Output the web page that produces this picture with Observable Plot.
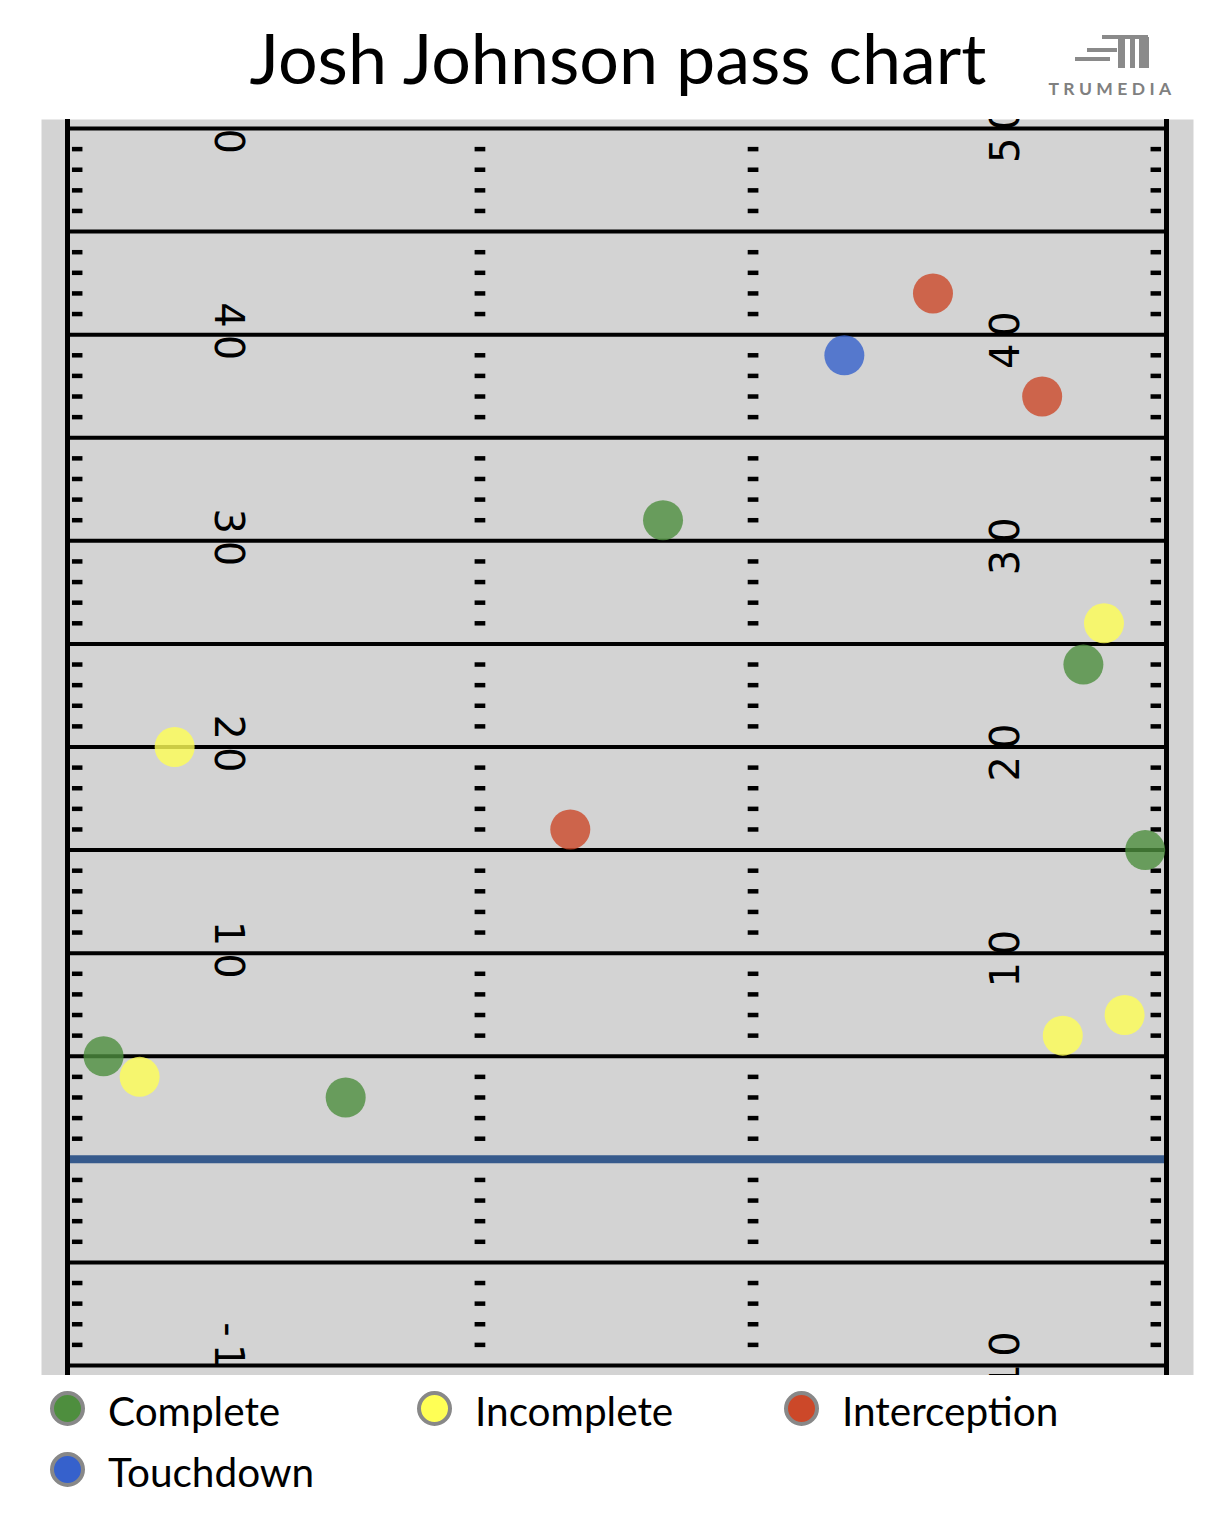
<!DOCTYPE html>
<html>
<head>
<meta charset="utf-8">
<script src="https://cdn.jsdelivr.net/npm/d3@7"></script>
<script src="https://cdn.jsdelivr.net/npm/@observablehq/plot@0.6"></script>
<style>
  html, body { margin: 0; padding: 0; background: #fff; }
  #wrap { position: relative; width: 1232px; height: 1522px; font-family: Lato, sans-serif; overflow: hidden; }
  #title { position: absolute; left: 2px; width: 1232px; top: 22px; text-align: center; font-size: 70px; line-height: 1; color: #000; }
  #logo { position: absolute; left: 1040px; top: 28px; }
  #chart { position: absolute; left: 0; top: 119px; }
  #chart g[aria-label="text"] text { letter-spacing: 7px; }
  .lg-item { position: absolute; height: 40px; }
  .lg-dot { position: absolute; left: 0; width: 35px; height: 35px; box-sizing: border-box; border: 4px solid #888; border-radius: 50%; }
  .lg-text { position: absolute; left: 58px; white-space: nowrap; font-size: 40.5px; line-height: 1; color: #000; }
</style>
</head>
<body>
<div id="wrap">
  <div id="title">Josh Johnson pass chart</div>
  <svg id="logo" width="150" height="75" viewBox="0 0 150 75">
    <g fill="#8a8a8a">
      <rect x="62" y="7" width="46" height="4"/>
      <rect x="47" y="20" width="30" height="4"/>
      <rect x="35" y="29" width="35" height="4"/>
      <rect x="78" y="9" width="7" height="31"/>
      <rect x="90" y="9" width="5" height="31"/>
      <rect x="99" y="9" width="5" height="31"/>
      <rect x="104" y="9" width="5" height="31"/>
    </g>
    <text x="72" y="67" text-anchor="middle" font-family="Lato, sans-serif" font-weight="bold" font-size="17.5" letter-spacing="4.4" fill="#808080">TRUMEDIA</text>
  </svg>
  <div id="chart"></div>
  <div id="legend"></div>
</div>
<script>
// ---- data ----
const passX = [42, 37.7, 47.3, 28.9, 50.3, 49.3, 5.2, 24.4, 52.3, 51.3, 48.3, 1.75, 3.5, 13.5];
const passY = [42, 39, 37, 31, 26, 24, 20, 16, 15, 7, 6, 5, 4, 3];
const passResult = ["Interception", "Touchdown", "Interception", "Complete", "Incomplete", "Complete", "Incomplete", "Interception", "Complete", "Incomplete", "Incomplete", "Complete", "Incomplete", "Complete"];

const resultCategories = ["Complete", "Incomplete", "Interception", "Touchdown"];
const resultColors = ["#4e8e3e", "#ffff55", "#cc4829", "#3661cc"];

const yardLines = [-10, -5, 5, 10, 15, 20, 25, 30, 35, 40, 45, 50];
const scrimmage = [0];
const leftLabelYards = [50, 40, 30, 20, 10, -10];
const leftLabelText = ["50", "40", "30", "20", "10", "-10"];
const rightLabelYards = [50, 40, 30, 20, 10, -10];
const rightLabelText = ["50", "40", "30", "20", "10", "-10"];

const FIELD_W = 160 / 3;
const hashYards = d3.range(-9, 50).filter(v => v % 5 !== 0);
const sidelines = [0, FIELD_W];

const passes = passX.map((x, i) => ({x, y: passY[i], result: passResult[i]}));
const leftLabels = leftLabelYards.map((y, i) => ({y, t: leftLabelText[i]}));
const rightLabels = rightLabelYards.map((y, i) => ({y, t: rightLabelText[i]}));

const tickOpts = (a, b) => ({x1: a, x2: b, stroke: "#000", strokeWidth: 4.5});

const plot = Plot.plot({
  width: 1232,
  height: 1256,
  marginLeft: 41,
  marginRight: 39,
  marginTop: 0,
  marginBottom: 0,
  style: {background: "transparent", overflow: "hidden"},
  x: {domain: [0, FIELD_W], range: [67, 1166], axis: null},
  y: {domain: [-10, 50], range: [1246, 9], axis: null},
  color: {domain: resultCategories, range: resultColors},
  marks: [
    Plot.frame({fill: "#d3d3d3", stroke: "none"}),
    Plot.ruleY(yardLines, {x1: 0, x2: FIELD_W, stroke: "#000", strokeWidth: 4}),
    Plot.ruleY(scrimmage, {x1: 0, x2: FIELD_W, stroke: "#365a8c", strokeWidth: 8}),
    Plot.ruleY(hashYards, tickOpts(0.24, 0.75)),
    Plot.ruleY(hashYards, tickOpts(FIELD_W - 0.75, FIELD_W - 0.24)),
    Plot.ruleY(hashYards, tickOpts(19.78, 20.3)),
    Plot.ruleY(hashYards, tickOpts(FIELD_W - 20.3, FIELD_W - 19.78)),
    Plot.ruleX(sidelines, {y1: -11, y2: 51, stroke: "#000", strokeWidth: 5, clip: true}),
    Plot.text(leftLabels, {x: 7.76, y: "y", text: "t", rotate: 90, fontSize: 40, fontFamily: "DejaVu Sans", fill: "#000", dy: 0, clip: true}),
    Plot.text(rightLabels, {x: FIELD_W - 7.76, y: "y", text: "t", rotate: -90, fontSize: 40, fontFamily: "DejaVu Sans", fill: "#000", dy: 2, clip: true}),
    Plot.dot(passes, {x: "x", y: "y", r: 20, fill: "result", fillOpacity: 0.8})
  ]
});
document.getElementById("chart").appendChild(plot);

// ---- legend ----
const legend = document.getElementById("legend");
resultCategories.forEach((name, i) => {
  const col = i % 3, row = Math.floor(i / 3);
  const item = document.createElement("div");
  item.className = "lg-item";
  item.style.left = (50 + col * 367) + "px";
  item.style.top = (1391 + row * 61) + "px";
  const dot = document.createElement("div");
  dot.className = "lg-dot";
  dot.style.background = resultColors[i];
  dot.style.top = "0px";
  const txt = document.createElement("div");
  txt.className = "lg-text";
  txt.style.top = "0px";
  txt.textContent = name;
  item.appendChild(dot);
  item.appendChild(txt);
  legend.appendChild(item);
});
</script>
</body>
</html>
